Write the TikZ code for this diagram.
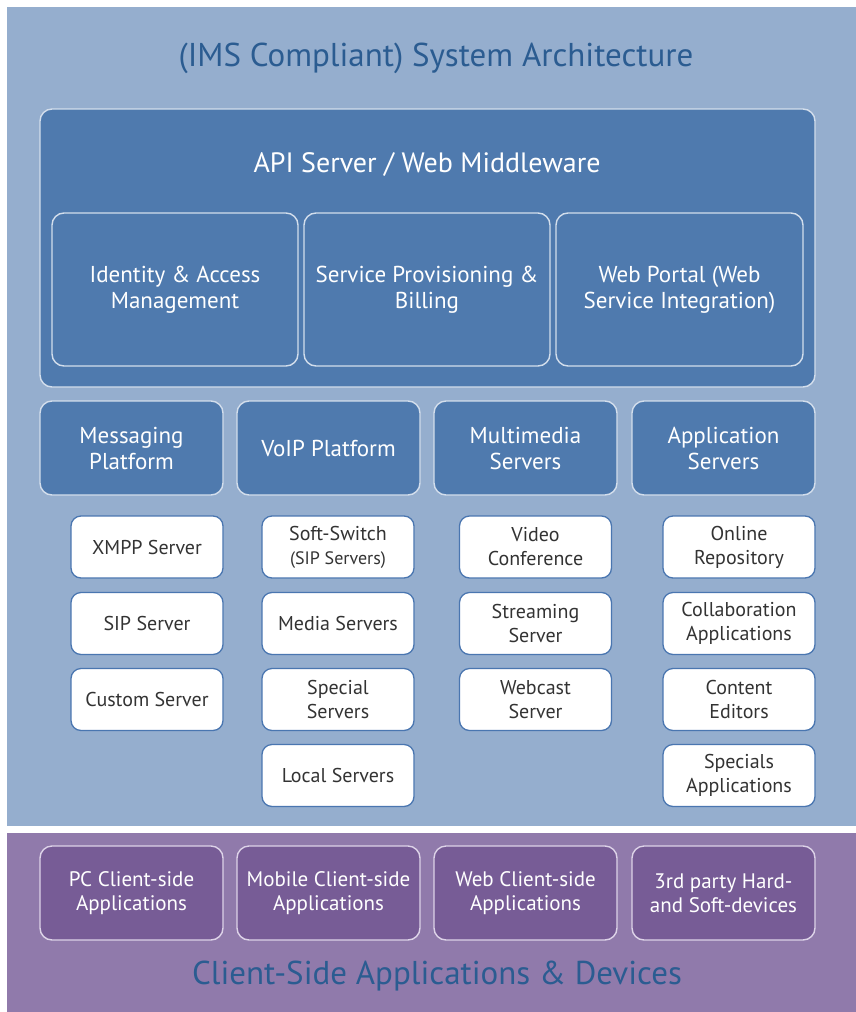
\documentclass[tikz,border=0pt]{standalone}
\usepackage{fontspec}
\setmainfont{PT Sans}
\usetikzlibrary{positioning}
\definecolor{skyback}{HTML}{95AECE}
\definecolor{steel}{HTML}{4F7AAE}
\definecolor{steeledge}{HTML}{D3DEEC}
\definecolor{wedge}{HTML}{4A76B0}
\definecolor{lilac}{HTML}{907AAB}
\definecolor{plum}{HTML}{775C96}
\definecolor{plumedge}{HTML}{DDD3E8}
\definecolor{headblue}{HTML}{2B5C91}
\definecolor{ink}{HTML}{333333}
\newcommand{\headfont}{\fontsize{33}{38}\selectfont}
\newcommand{\bigfont}{\fontsize{28}{32}\selectfont}
\newcommand{\midfont}{\fontsize{23}{26}\selectfont}
\newcommand{\plumfont}{\fontsize{21}{24}\selectfont}
\newcommand{\smallfont}{\fontsize{20}{24}\selectfont}

\begin{document}
\begin{tikzpicture}[x=1pt,y=-1pt,
  steelbox/.style={draw=steeledge,fill=steel,line width=1.4pt,rounded corners=12pt,
    text=white,font=\midfont,align=center,inner sep=0,minimum height=94pt,minimum width=183pt},
  whitebox/.style={draw=wedge,fill=white,line width=1.3pt,rounded corners=10pt,
    text=ink,font=\smallfont,align=center,inner sep=0,minimum height=62pt,minimum width=152pt},
  plumbox/.style={steelbox,draw=plumedge,fill=plum,font=\plumfont}]
\useasboundingbox (0,0) rectangle (856,1012);
\fill[skyback] (7,7) rectangle (856,826);
\fill[lilac] (7,833) rectangle (856,1012);
\node[text=headblue,font=\headfont] (title) at (436,58) {(IMS Compliant) System Architecture};
% middleware block
\node[steelbox,minimum width=775pt,minimum height=278pt] (api) at (427.5,248) {};
\node[text=white,font=\bigfont] (apilabel) at (427,164) {API Server / Web Middleware};
\node[steelbox,minimum width=246pt,minimum height=153pt] (iam) at (175,289.5) {Identity \& Access\\Management};
\node[steelbox,minimum width=246pt,minimum height=153pt] (spb) at (427,289.5) {Service Provisioning \&\\Billing};
\node[steelbox,minimum width=247pt,minimum height=153pt] (portal) at (679.5,289.5) {Web Portal (Web\\Service Integration)};
% platforms
\node[steelbox] (msg) at (131.5,448) {Messaging\\Platform};
\node[steelbox] (voip) at (328.5,448) {VoIP Platform};
\node[steelbox] (mm) at (525.5,448) {Multimedia\\Servers};
\node[steelbox] (apps) at (723.5,448) {Application\\Servers};
% servers
\node[whitebox] (xmpp) at (147,547) {XMPP Server};
\node[whitebox] (sip) at (147,623.5) {SIP Server};
\node[whitebox] (custom) at (147,699.5) {Custom Server};
\node[whitebox] (soft) at (338,547) {Soft-Switch\\{\fontsize{18}{22}\selectfont(SIP Servers)}};
\node[whitebox] (media) at (338,623.5) {Media Servers};
\node[whitebox] (special) at (338,699.5) {Special\\Servers};
\node[whitebox] (local) at (338,775.5) {Local Servers};
\node[whitebox] (video) at (535.5,547) {Video\\Conference};
\node[whitebox] (stream) at (535.5,623.5) {Streaming\\Server};
\node[whitebox] (webcast) at (535.5,699.5) {Webcast\\Server};
\node[whitebox] (repo) at (739,547) {Online\\Repository};
\node[whitebox] (collab) at (739,623.5) {Collaboration\\Applications};
\node[whitebox] (editors) at (739,699.5) {Content\\Editors};
\node[whitebox] (specapps) at (739,775.5) {Specials\\Applications};
% client side
\node[plumbox] (pc) at (131.5,893) {PC Client-side\\Applications};
\node[plumbox] (mobile) at (328.5,893) {Mobile Client-side\\Applications};
\node[plumbox] (web) at (525.5,893) {Web Client-side\\Applications};
\node[plumbox] (third) at (723.5,893) {3rd party Hard-\\and Soft-devices};
\node[text=headblue,font=\headfont] (client) at (437,976) {Client-Side Applications \& Devices};
\end{tikzpicture}
\end{document}
